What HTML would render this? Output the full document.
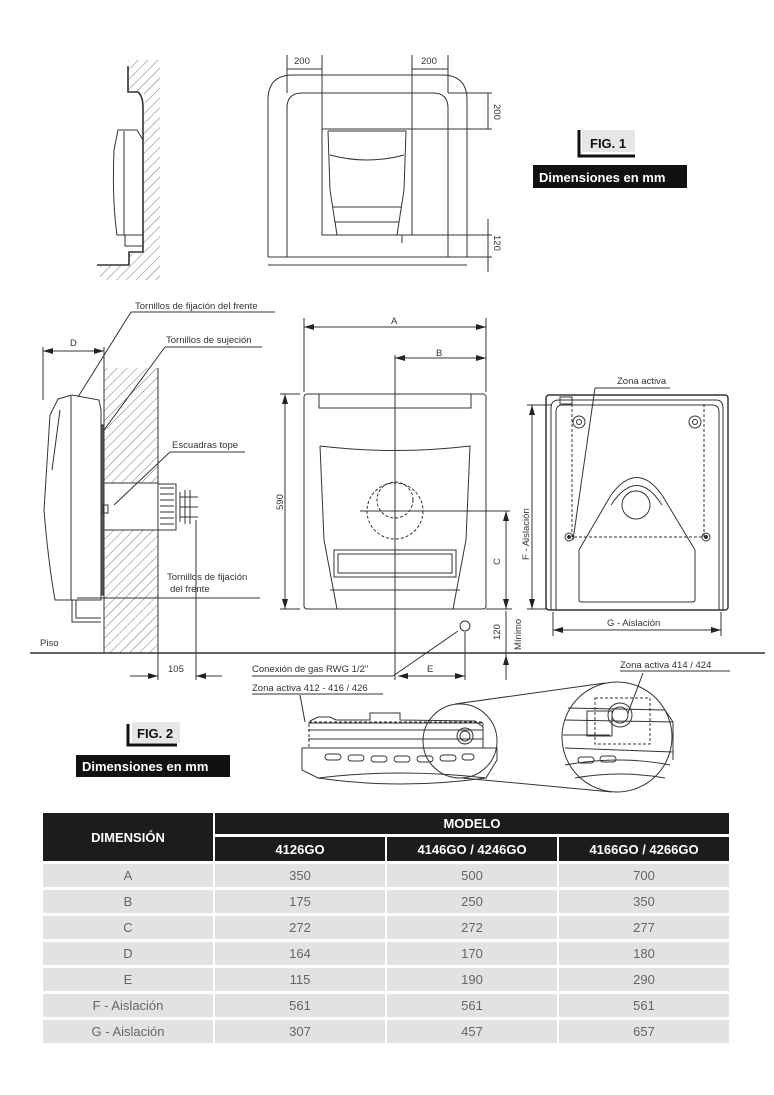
<!DOCTYPE html>
<html><head><meta charset="utf-8">
<style>
html,body{margin:0;padding:0;background:#fff;}
body{width:774px;height:1095px;position:relative;overflow:hidden;font-family:"Liberation Sans",sans-serif;}
svg{position:absolute;left:0;top:0;}
.t{font-family:"Liberation Sans",sans-serif;fill:#333;font-size:9.5px;}
table{position:absolute;left:41px;top:810px;width:690px;table-layout:fixed;border-collapse:separate;border-spacing:2px 3px;font-family:"Liberation Sans",sans-serif;}
td{text-align:center;font-size:13px;color:#666;background:#e2e2e2;height:23px;padding:0;}
th{background:#1c1c1c;color:#fff;font-size:13px;font-weight:bold;padding:0;}
</style></head><body>
<svg width="774" height="1095" viewBox="0 0 774 1095">
<defs>
<pattern id="h" width="7" height="7" patternUnits="userSpaceOnUse" patternTransform="rotate(45)"><line x1="0" y1="0" x2="0" y2="7" stroke="#555" stroke-width="0.8"/></pattern>
<marker id="a" markerWidth="10" markerHeight="6" refX="10" refY="3" orient="auto-start-reverse" markerUnits="userSpaceOnUse"><path d="M0,0 L10,3 L0,6z" fill="#222"/></marker>
</defs>
<g fill="none" stroke="#333" stroke-width="1">
<path d="M128,92 L143,92 Q147,100 143,110 L143,250 L129,255 L129,265 L160,265 L160,60 L128,60z" fill="url(#h)" stroke="none"/>
<path d="M128,66 L128,92 L138,92 Q143,96 143,108 L143,252 L129,252 L129,265 L97,265" stroke-width="1.6"/>
<path d="M100,265 L160,265 L160,280 L100,280z" fill="url(#h)" stroke="none"/>
<path d="M118,130 L137,130 L143,140 L143,235 L117,235 Q112,200 114,150z"/>
<line x1="124" y1="131" x2="124" y2="235"/>
<path d="M125,235 L125,246 L143,246"/>
<path d="M268,257 L268,100 Q268,75 293,75 L442,75 Q467,75 467,100 L467,257"/>
<path d="M287,257 L287,108 Q287,93 302,93 L433,93 Q448,93 448,108 L448,257"/>
<line x1="268" y1="257" x2="467" y2="257"/>
<line x1="268" y1="265" x2="467" y2="265"/>
<rect x="322" y="129" width="90" height="106"/>
<path d="M328,131 L406,131 L404,190 L397,235 M337,235 L330,190 L328,131"/>
<path d="M330,155 Q367,165 404,155"/>
<line x1="333" y1="207" x2="401" y2="207"/><line x1="335" y1="222" x2="399" y2="222"/>
<path d="M402,235 L402,243"/>
<line x1="287" y1="55" x2="287" y2="93"/><line x1="322" y1="55" x2="322" y2="129"/>
<line x1="412" y1="55" x2="412" y2="129"/><line x1="448" y1="55" x2="448" y2="93"/>
<line x1="287" y1="69" x2="322" y2="69"/><line x1="412" y1="69" x2="448" y2="69"/>
<line x1="448" y1="93" x2="492" y2="93"/><line x1="412" y1="129" x2="492" y2="129"/>
<line x1="412" y1="235" x2="492" y2="235"/><line x1="467" y1="257" x2="492" y2="257"/>
<line x1="488" y1="93" x2="488" y2="129"/><line x1="488" y1="219" x2="488" y2="272"/>
</g>
<text class="t" x="294" y="64">200</text><text class="t" x="421" y="64">200</text>
<text class="t" transform="translate(494,104) rotate(90)">200</text>
<text class="t" transform="translate(494,235) rotate(90)">120</text>
<rect x="582" y="130" width="53" height="22" fill="#e6e6e6"/>
<path d="M579,130 L579,156 L635,156" fill="none" stroke="#111" stroke-width="3"/>
<text x="590" y="148" font-size="13" font-weight="bold" fill="#111" font-family="Liberation Sans">FIG. 1</text>
<rect x="533" y="165" width="154" height="23" fill="#111"/>
<text x="539" y="182" font-size="13" font-weight="bold" fill="#fff" font-family="Liberation Sans">Dimensiones en mm</text>

<g fill="none" stroke="#333" stroke-width="1">
<rect x="104" y="368" width="54" height="285" fill="url(#h)" stroke="none"/>
<rect x="104" y="483" width="54" height="47" fill="#fff" stroke="none"/>
<line x1="104" y1="368" x2="104" y2="653"/><line x1="158" y1="368" x2="158" y2="653"/>
<rect x="104" y="483" width="54" height="47"/>
<rect x="158" y="484" width="18" height="46"/>
<path d="M160,488 h14 M160,494 h14 M160,500 h14 M160,506 h14 M160,512 h14 M160,518 h14 M160,524 h14"/>
<path d="M180,492 L180,522 M185,490 L185,524 M190,490 L190,524 M180,497 h18 M180,507 h18 M180,517 h18"/>
<path d="M58,399 L72,395 L99,400 L101,410 L101,600 L55,600 Q48,560 44,510 L50,415z"/>
<line x1="71" y1="396" x2="71" y2="600"/>
<path d="M60,410 L52,470"/>
<rect x="101" y="425" width="3" height="170" fill="#555"/>
<rect x="103" y="505" width="5" height="8"/>
<path d="M72,600 L72,622 L101,622 M76,600 L76,618 L101,618"/>
<line x1="43" y1="347" x2="43" y2="400"/><line x1="104" y1="347" x2="104" y2="370"/>
<line x1="43" y1="351" x2="104" y2="351" marker-start="url(#a)" marker-end="url(#a)"/>
<line x1="78" y1="397" x2="131" y2="312"/><line x1="131" y1="312" x2="275" y2="312"/>
<line x1="104" y1="430" x2="165" y2="347"/><line x1="165" y1="347" x2="262" y2="347"/>
<line x1="114" y1="505" x2="170" y2="452"/><line x1="170" y1="452" x2="245" y2="452"/>
<line x1="77" y1="598" x2="260" y2="598"/>
<line x1="30" y1="653" x2="765" y2="653" stroke-width="1.5"/>
<line x1="158" y1="653" x2="158" y2="680"/><line x1="196" y1="520" x2="196" y2="680"/>
<line x1="130" y1="676" x2="158" y2="676" marker-end="url(#a)"/><line x1="222" y1="676" x2="196" y2="676" marker-end="url(#a)"/>
</g>
<text class="t" x="135" y="309">Tornillos de fijación del frente</text>
<text class="t" x="166" y="343">Tornillos de sujeción</text>
<text class="t" x="172" y="448">Escuadras tope</text>
<text class="t" x="167" y="580">Tornillos de fijación</text>
<text class="t" x="170" y="592">del frente</text>
<text class="t" x="70" y="346">D</text>
<text class="t" x="40" y="646">Piso</text>
<text class="t" x="168" y="672">105</text>

<g fill="none" stroke="#333" stroke-width="1">
<rect x="304" y="394" width="182" height="215" rx="3"/>
<path d="M319,394 L319,408 L471,408 L471,394"/>
<path d="M320,446 Q395,455 470,446 L466,540 L453,609 M337,609 L324,540 L320,446"/>
<rect x="334" y="550" width="122" height="27"/>
<rect x="338" y="554" width="114" height="19"/>
<line x1="330" y1="590" x2="460" y2="590"/>
<circle cx="395" cy="511" r="28" stroke-dasharray="3,2"/>
<circle cx="395" cy="500" r="18" stroke-dasharray="3,2"/>
<line x1="360" y1="511" x2="510" y2="511"/>
<line x1="395" y1="355" x2="395" y2="680"/>
<line x1="304" y1="318" x2="304" y2="392"/><line x1="486" y1="318" x2="486" y2="392"/>
<line x1="304" y1="327" x2="486" y2="327" marker-start="url(#a)" marker-end="url(#a)"/>
<line x1="395" y1="358" x2="486" y2="358" marker-start="url(#a)" marker-end="url(#a)"/>
<line x1="285" y1="394" x2="285" y2="609" marker-start="url(#a)" marker-end="url(#a)"/>
<line x1="280" y1="394" x2="300" y2="394"/><line x1="280" y1="609" x2="300" y2="609"/>
<line x1="506" y1="511" x2="506" y2="609" marker-start="url(#a)" marker-end="url(#a)"/>
<line x1="486" y1="609" x2="512" y2="609"/>
<line x1="506" y1="611" x2="506" y2="680"/>
<line x1="506" y1="680" x2="506" y2="655" marker-end="url(#a)"/>
<circle cx="465" cy="626" r="5"/>
<line x1="458" y1="631" x2="393" y2="676"/><line x1="252" y1="676" x2="393" y2="676"/>
<line x1="465" y1="632" x2="465" y2="680"/>
<line x1="398" y1="676" x2="465" y2="676" marker-start="url(#a)" marker-end="url(#a)"/>
</g>
<text class="t" x="391" y="324">A</text>
<text class="t" x="436" y="356">B</text>
<text class="t" transform="translate(283,510) rotate(-90)">590</text>
<text class="t" transform="translate(500,565) rotate(-90)">C</text>
<text class="t" transform="translate(500,640) rotate(-90)">120</text>
<text class="t" transform="translate(521,650) rotate(-90)">Mínimo</text>
<text class="t" x="427" y="672">E</text>
<text class="t" x="252" y="672">Conexión de gas RWG 1/2"</text>

<g fill="none" stroke="#333" stroke-width="1">
<rect x="546" y="395" width="182" height="215" rx="3" stroke-width="1.5"/>
<path d="M551,610 L551,408 Q551,400 559,400 L716,400 Q723,400 723,408 L723,610"/>
<path d="M556,610 L556,412 Q556,405 563,405 L712,405 Q719,405 719,412 L719,610"/>
<rect x="560" y="397" width="12" height="7"/>
<circle cx="579" cy="422" r="6"/><circle cx="579" cy="422" r="2.5"/>
<circle cx="695" cy="422" r="6"/><circle cx="695" cy="422" r="2.5"/>
<circle cx="569" cy="537" r="4"/><circle cx="569" cy="537" r="1.5" fill="#333"/>
<circle cx="706" cy="537" r="4"/><circle cx="706" cy="537" r="1.5" fill="#333"/>
<path d="M572,404 L572,537 L704,537 L704,404" stroke-dasharray="3,2"/>
<path d="M579,550 L611,495 Q637,460 662,495 L695,550 L695,600 Q695,602 692,602 L582,602 Q579,602 579,600z"/>
<path d="M611,505 Q637,466 662,505"/>
<circle cx="636" cy="505" r="14"/>
<line x1="573" y1="540" x2="595" y2="388"/><line x1="595" y1="388" x2="670" y2="388"/>
<line x1="532" y1="405" x2="532" y2="609" marker-start="url(#a)" marker-end="url(#a)"/>
<line x1="527" y1="405" x2="552" y2="405"/><line x1="527" y1="609" x2="548" y2="609"/>
<line x1="553" y1="612" x2="553" y2="636"/><line x1="721" y1="612" x2="721" y2="636"/>
<line x1="553" y1="630" x2="721" y2="630" marker-start="url(#a)" marker-end="url(#a)"/>
</g>
<text class="t" x="617" y="384">Zona activa</text>
<text class="t" transform="translate(529,560) rotate(-90)">F - Aislación</text>
<text class="t" x="607" y="626">G - Aislación</text>

<g fill="none" stroke="#333" stroke-width="1">
<line x1="252" y1="694" x2="383" y2="694"/><line x1="305" y1="722" x2="300" y2="695"/>
<line x1="620" y1="671" x2="730" y2="671"/><line x1="643" y1="673" x2="628" y2="713"/>
<path d="M310,721 L318,717 L330,717 L336,720 L370,720 L370,713 L400,713 L400,720 L475,721 L483,727 L483,748"/>
<path d="M308,723 L483,723 M308,730 L483,730 M308,739 L483,739 M308,748 L483,748"/>
<rect x="309" y="722" width="174" height="26" stroke-dasharray="3,2"/>
<path d="M302,748 L497,748 L497,760 L486,778 Q400,790 318,778 L302,770z"/>
<path d="M318,778 Q400,768 486,778"/>
<g stroke-width="0.9">
<rect x="325" y="754" width="16" height="6" rx="3"/><rect x="348" y="755" width="16" height="6" rx="3"/>
<rect x="371" y="756" width="16" height="6" rx="3"/><rect x="394" y="756" width="16" height="6" rx="3"/>
<rect x="417" y="756" width="16" height="6" rx="3"/><rect x="440" y="755" width="16" height="6" rx="3"/><rect x="462" y="754" width="12" height="6" rx="3"/>
</g>
<circle cx="465" cy="736" r="8"/><circle cx="465" cy="736" r="5"/>
<circle cx="460" cy="741" r="37"/>
<circle cx="617" cy="737" r="55"/>
<line x1="455" y1="704" x2="605" y2="683"/><line x1="462" y1="778" x2="612" y2="792"/>
<path d="M568,708 L665,710 L673,722 L673,760 M565,720 L673,722 M563,735 L610,735 M565,748 L673,752"/>
<rect x="595" y="698" width="55" height="46" stroke-dasharray="3,2"/>
<rect x="587" y="711" width="25" height="25"/>
<circle cx="620" cy="715" r="12"/><circle cx="620" cy="715" r="8"/>
<path d="M565,765 Q620,755 670,765 M575,778 Q620,770 665,778"/>
<rect x="578" y="757" width="16" height="6" rx="3"/><rect x="600" y="756" width="16" height="6" rx="3"/>
</g>
<text class="t" x="252" y="691">Zona activa 412 - 416 / 426</text>
<text class="t" x="620" y="668">Zona activa 414 / 424</text>

<rect x="132" y="722" width="48" height="21" fill="#e6e6e6"/>
<path d="M128,724 L128,745 L177,745" fill="none" stroke="#111" stroke-width="3"/>
<text x="137" y="738" font-size="13" font-weight="bold" fill="#111" font-family="Liberation Sans">FIG. 2</text>
<rect x="76" y="755" width="154" height="22" fill="#111"/>
<text x="82" y="771" font-size="13" font-weight="bold" fill="#fff" font-family="Liberation Sans">Dimensiones en mm</text>
</svg>

<table>
<colgroup><col style="width:25%"><col style="width:25%"><col style="width:25%"><col style="width:25%"></colgroup>
<tr><th rowspan="2" style="height:48px;">DIMENSIÓN</th><th colspan="3" style="height:21px;">MODELO</th></tr>
<tr><th style="height:23px;">4126GO</th><th>4146GO / 4246GO</th><th>4166GO / 4266GO</th></tr>
<tr><td>A</td><td>350</td><td>500</td><td>700</td></tr>
<tr><td>B</td><td>175</td><td>250</td><td>350</td></tr>
<tr><td>C</td><td>272</td><td>272</td><td>277</td></tr>
<tr><td>D</td><td>164</td><td>170</td><td>180</td></tr>
<tr><td>E</td><td>115</td><td>190</td><td>290</td></tr>
<tr><td>F - Aislación</td><td>561</td><td>561</td><td>561</td></tr>
<tr><td>G - Aislación</td><td>307</td><td>457</td><td>657</td></tr>
</table>
</body></html>
